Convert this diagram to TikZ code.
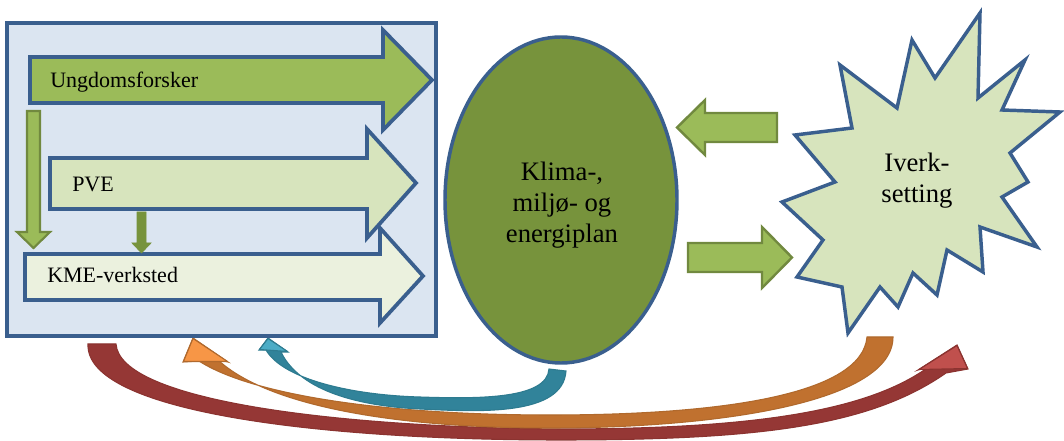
\documentclass[tikz,border=0pt]{standalone}
\usepackage{fontspec}
\setmainfont{Liberation Serif}
\usetikzlibrary{shapes.geometric}
\definecolor{bdr}{HTML}{3A5F8E}
\definecolor{boxfill}{HTML}{DBE5F1}
\definecolor{ungfill}{HTML}{9BBB59}
\definecolor{pvefill}{HTML}{D7E4BD}
\definecolor{kmefill}{HTML}{EBF1DE}
\definecolor{ellfill}{HTML}{77933C}
\definecolor{grnline}{HTML}{71893F}
\definecolor{redA}{HTML}{953735}
\definecolor{redB}{HTML}{C0504D}
\definecolor{redL}{HTML}{8B3330}
\definecolor{oraA}{HTML}{F79646}
\definecolor{oraB}{HTML}{C0712F}
\definecolor{oraL}{HTML}{B0692D}
\definecolor{tealA}{HTML}{4BACC6}
\definecolor{tealB}{HTML}{31839A}
\definecolor{tealL}{HTML}{2E7B90}
\begin{document}
\begin{tikzpicture}[x=0.75pt,y=-0.75pt,line join=miter,
  blockarrow/.style={draw=bdr,line width=2.8pt},
  sidearrow/.style={draw=grnline,fill=ungfill,line width=1.8pt},
  lbl/.style={anchor=base west,inner sep=0pt,font=\fontsize{16.5}{19}\selectfont},
  bigtxt/.style={align=center,inner sep=0pt,font=\fontsize{20}{23.2}\selectfont},
  curvearrow/.style={line width=0.8pt}]
\useasboundingbox (0,0) rectangle (1064,441);
\fill[white] (0,0) rectangle (1064,441);

% curved arrows (behind)
\draw[curvearrow,draw=redL,fill=redA]
  (88,344) -- (116,344) .. controls (120,400) and (330,427) .. (560,429)
  .. controls (760,429) and (870,410) .. (930,366) -- (918,370) -- (957,345)
  -- (968,369) -- (946,373) .. controls (870,426) and (760,440) .. (560,440)
  .. controls (320,440) and (85,412) .. (88,344) -- cycle;
\draw[curvearrow,draw=redL,fill=redB,line join=round] (919,369.5) -- (957,345.5) -- (967.5,368.5) -- cycle;
\draw[curvearrow,draw=oraL,fill=oraB]
  (867,337) -- (893,337) .. controls (893,402) and (720,428) .. (550,428)
  .. controls (380,428) and (262,402) .. (217,359) -- (228,362) -- (193,338)
  -- (183,362) -- (199,361) .. controls (250,394) and (380,415) .. (550,415)
  .. controls (720,415) and (862,395) .. (867,337) -- cycle;
\draw[curvearrow,draw=oraL,fill=oraA,line join=round] (183.5,361.5) -- (193,338.5) -- (227.5,361.5) -- cycle;
\draw[curvearrow,draw=tealL,fill=tealB]
  (549,369) -- (566,371) .. controls (563,416) and (480,412) .. (420,409)
  .. controls (340,405) and (296,383) .. (281,352) -- (288,352) -- (268,338)
  -- (259,350) -- (266,350) .. controls (283,379) and (350,395) .. (420,397)
  .. controls (480,399) and (547,399) .. (549,369) -- cycle;
\draw[curvearrow,draw=tealL,fill=tealA,line join=round] (259.5,349.5) -- (268,338.5) -- (287.5,351.5) -- cycle;

% left box
\node (box) [draw=bdr,fill=boxfill,line width=2.8pt,inner sep=0pt,
  minimum width=321.75pt,minimum height=234.75pt] at (221.5,179.5) {};

% block arrows
\draw[blockarrow,fill=ungfill] (30,57) -- (383,57) -- (383,30) -- (432,80)
  -- (383,130) -- (383,103) -- (30,103) -- cycle;
\draw[blockarrow,fill=pvefill] (50,158) -- (367,158) -- (367,129) -- (416,183)
  -- (367,238) -- (367,209) -- (50,209) -- cycle;
\draw[blockarrow,fill=kmefill] (25,254) -- (380,254) -- (380,228) -- (423,276)
  -- (380,323) -- (380,300) -- (25,300) -- cycle;

\node (ung) [lbl] at (50,88) {Ungdomsforsker};
\node (pve) [lbl] at (72,192) {PVE};
\node (kme) [lbl] at (47,283) {KME-verksted};

% down arrows
\draw[draw=grnline,fill=ungfill,line width=1.6pt] (27,111) -- (40,111) -- (40,232)
  -- (50,232) -- (33.5,248) -- (17,232) -- (27,232) -- cycle;
\draw[draw=ellfill,fill=ellfill,line width=0.5pt] (137,212) -- (146,212) -- (146,243)
  -- (151,243) -- (141.5,253) -- (132,243) -- (137,243) -- cycle;

% ellipse
\node (plan) [ellipse,draw=bdr,fill=ellfill,line width=2.6pt,inner sep=0pt,
  minimum width=174pt,minimum height=244.5pt] at (561,200) {};
\node (plantxt) [bigtxt] at (562,205) {Klima-,\\miljø- og\\energiplan};

% side arrows
\draw[sidearrow] (777,113) -- (705,113) -- (705,100) -- (677,127.5)
  -- (705,155) -- (705,142) -- (777,142) -- cycle;
\draw[sidearrow] (688,243) -- (762,243) -- (762,227) -- (792,257.5)
  -- (762,288) -- (762,272) -- (688,272) -- cycle;

% star
\draw[draw=bdr,fill=pvefill,line width=2.6pt]
  (980,13) -- (978,98) -- (1025,60) -- (1002,110) -- (1060,112) -- (1010,153)
  -- (1028,182) -- (1002,197) -- (1037,247) -- (980,227) -- (983,272)
  -- (947,250) -- (937,295) -- (913,273) -- (898,307) -- (880,287)
  -- (848,333) -- (842,287) -- (797,277) -- (823,240) -- (782,202)
  -- (835,182) -- (795,135) -- (852,128) -- (840,65) -- (897,108)
  -- (912,40) -- (935,78) -- cycle;
\node (iverk) [bigtxt] at (917,181) {Iverk-\\setting};
\end{tikzpicture}
\end{document}
